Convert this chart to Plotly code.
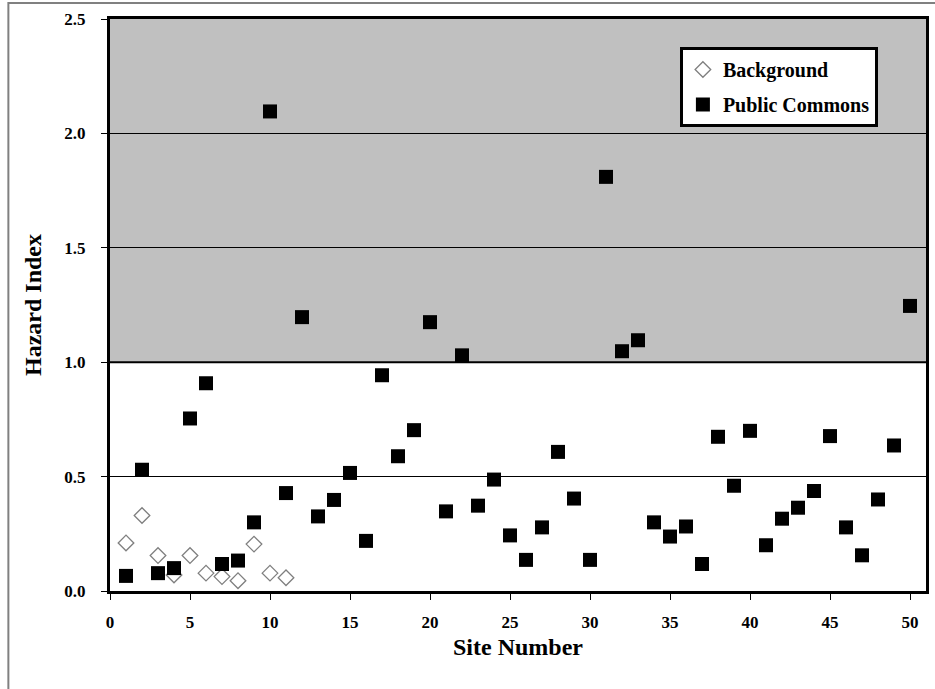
import plotly.graph_objects as go

# ---------------- data ----------------
bg_sites = [1, 2, 3, 4, 5, 6, 7, 8, 9, 10, 11]
bg_hi = [0.21, 0.33, 0.155, 0.07, 0.155, 0.078, 0.063, 0.045, 0.205, 0.078, 0.058]

pc_sites = list(range(1, 51))
pc_hi = [0.066, 0.53, 0.078, 0.10, 0.754, 0.908, 0.118, 0.133, 0.30, 2.096,
         0.428, 1.197, 0.326, 0.398, 0.516, 0.219, 0.943, 0.589, 0.703, 1.175,
         0.348, 1.03, 0.373, 0.487, 0.243, 0.136, 0.278, 0.608, 0.404, 0.136,
         1.81, 1.048, 1.096, 0.30, 0.238, 0.282, 0.118, 0.674, 0.46, 0.70,
         0.20, 0.316, 0.364, 0.437, 0.677, 0.278, 0.156, 0.40, 0.636, 1.246]

x_ticks = [0, 5, 10, 15, 20, 25, 30, 35, 40, 45, 50]
y_ticks = [0.0, 0.5, 1.0, 1.5, 2.0, 2.5]
y_tick_labels = ["0.0", "0.5", "1.0", "1.5", "2.0", "2.5"]
threshold = 1.0

FONT = "Liberation Serif"

fig = go.Figure()
fig.add_trace(go.Scatter(
    x=bg_sites, y=bg_hi, mode="markers", name="Background",
    legendgroup="a",
    marker=dict(symbol="diamond", size=12, color="white",
                line=dict(color="#7f7f7f", width=1.3)),
))
fig.add_trace(go.Scatter(
    x=pc_sites, y=pc_hi, mode="markers", name="Public Commons",
    legendgroup="b",
    marker=dict(symbol="square", size=14, color="black",
                line=dict(color="black", width=0)),
))

# gray hazard region above threshold
fig.add_shape(type="rect", xref="x", yref="y", x0=0, x1=51, y0=threshold, y1=2.5,
              fillcolor="#c0c0c0", line=dict(width=0), layer="below")
# threshold line
fig.add_shape(type="line", xref="x", yref="y", x0=0, x1=51, y0=threshold, y1=threshold,
              line=dict(color="black", width=2), layer="below")

# page geometry
L, R, T, B = 110, 6, 19, 98
W, H = 935, 689
pw, ph = W - L - R, H - T - B
def px(xp):
    return (xp - L) / pw
def py(yp):
    return (H - B - yp) / ph

# outer gray frame (only left & top edges fall inside the page)
fig.add_shape(type="rect", xref="paper", yref="paper",
              x0=px(8), x1=px(960), y0=py(710), y1=py(3),
              fillcolor="rgba(0,0,0,0)", line=dict(color="#808080", width=2),
              layer="below")

fig.update_layout(
    width=W, height=H,
    margin=dict(l=L, r=R, t=T, b=B, pad=0),
    paper_bgcolor="white", plot_bgcolor="white",
    font=dict(family=FONT, color="black"),
    showlegend=True,
    legend=dict(
        x=px(682), y=py(47), xanchor="left", yanchor="top",
        bgcolor="white", bordercolor="black", borderwidth=3,
        font=dict(family=FONT, size=20, weight="bold", color="black"),
        tracegroupgap=6, itemwidth=30,
    ),
    xaxis=dict(
        range=[0, 51], tickvals=x_ticks, ticktext=[str(v) for v in x_ticks],
        showgrid=False, zeroline=False,
        showline=True, mirror=True, linecolor="black", linewidth=3,
        ticks="outside", ticklen=6, tickcolor="black", tickwidth=1,
        ticklabelstandoff=8,
        tickfont=dict(family=FONT, size=17, weight="bold"),
        title=dict(text="Site Number", standoff=7,
                   font=dict(family=FONT, size=24, weight="bold")),
    ),
    yaxis=dict(
        range=[0, 2.5], tickvals=y_ticks, ticktext=y_tick_labels,
        showgrid=True, gridcolor="black", gridwidth=1, zeroline=False,
        showline=True, mirror=True, linecolor="black", linewidth=3,
        ticks="outside", ticklen=6, tickcolor="black", tickwidth=1,
        ticklabelstandoff=12,
        tickfont=dict(family=FONT, size=17, weight="bold"),
        title=dict(text="Hazard Index", standoff=16,
                   font=dict(family=FONT, size=24, weight="bold")),
    ),
)

fig.write_html("out.html", config={"displayModeBar": False},
               post_script="document.body.style.margin='0';")
